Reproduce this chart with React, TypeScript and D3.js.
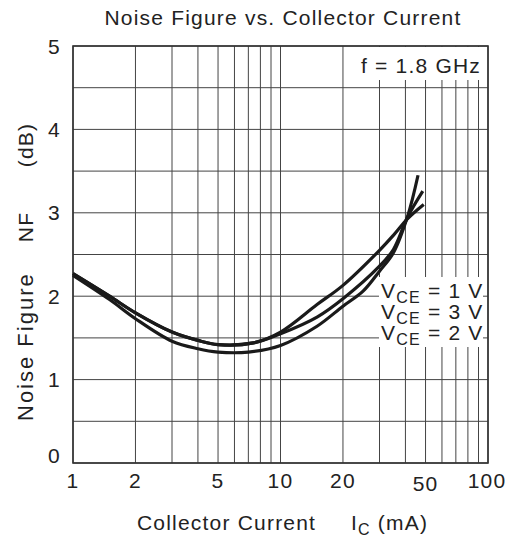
import React from "react";
import * as d3 from "d3";

const title = "Noise Figure vs. Collector Current";
const xTickValues = [1, 2, 5, 10, 20, 50, 100];
const yTickValues = [0, 1, 2, 3, 4, 5];
const yGridValues = [0, 0.5, 1, 1.5, 2, 2.5, 3, 3.5, 4, 4.5, 5];
const xGridValues = [1, 2, 3, 4, 5, 6, 7, 8, 9, 10, 20, 30, 40, 50, 60, 70, 80, 90, 100];

// Collector current (mA) and noise figure (dB) for each curve
const currentT = [1, 1.5, 2, 3, 4, 5, 7.4, 10, 15, 20, 30, 35, 41, 49];
const nfT = [2.27, 2.0, 1.8, 1.57, 1.47, 1.42, 1.44, 1.57, 1.9, 2.13, 2.55, 2.73, 2.93, 3.1];
const currentM = [1, 1.5, 2, 3, 4, 5, 7.4, 10, 15, 20, 30, 35, 41, 48.5];
const nfM = [2.27, 2.0, 1.8, 1.57, 1.47, 1.42, 1.44, 1.55, 1.75, 1.97, 2.36, 2.56, 2.95, 3.26];
const currentL = [1, 1.5, 2, 3, 4, 5, 7, 10, 15, 20, 25, 30, 35, 41, 46];
const nfL = [2.25, 1.96, 1.73, 1.46, 1.37, 1.33, 1.33, 1.41, 1.64, 1.88, 2.06, 2.3, 2.52, 2.96, 3.45];

const legendVce = ["1", "3", "2"];

const FONT = "'Liberation Sans', Arial, Helvetica, sans-serif";
const TXT = "#222";
const FS = 21;
const LS = 1.2;

export default function App() {
  const left = 73, right = 488, top = 46, bottom = 463;
  const x = d3.scaleLog().domain([1, 100]).range([left, right]);
  const y = d3.scaleLinear().domain([0, 5]).range([bottom, top]);

  const line = d3
    .line<[number, number]>()
    .x((d) => x(d[0]))
    .y((d) => y(d[1]))
    .curve(d3.curveCatmullRom.alpha(0.5));

  const series = [
    currentT.map((c, i) => [c, nfT[i]] as [number, number]),
    currentM.map((c, i) => [c, nfM[i]] as [number, number]),
    currentL.map((c, i) => [c, nfL[i]] as [number, number]),
  ];

  return (
    <svg
      width={508}
      height={540}
      style={{ position: "absolute", left: 0, top: 0, background: "#fff" }}
      fontFamily={FONT}
      letterSpacing={LS}
    >
      <rect x={0} y={0} width={508} height={540} fill="#fff" />
      <text x={283} y={25} textAnchor="middle" fontSize={FS} fill={TXT}>
        {title}
      </text>

      {/* grid */}
      {yGridValues.map((v) => (
        <line key={"h" + v} x1={left} x2={right} y1={y(v)} y2={y(v)} stroke="#444" strokeWidth={1} />
      ))}
      {xGridValues.map((v) => (
        <line key={"v" + v} x1={x(v)} x2={x(v)} y1={top} y2={bottom} stroke="#444" strokeWidth={1} />
      ))}

      {/* label boxes */}
      <rect x={355} y={47} width={128} height={33} fill="#fff" />
      <rect x={379} y={277} width={104} height={70} fill="#fff" />

      <rect x={left} y={top} width={right - left} height={bottom - top} fill="none" stroke="#333" strokeWidth={1.6} />

      {/* curves */}
      {series.map((s, i) => (
        <path key={i} d={line(s) || ""} fill="none" stroke="#1a1a1a" strokeWidth={3.2} strokeLinejoin="round" strokeLinecap="butt" />
      ))}

      <text x={481} y={73} textAnchor="end" fontSize={FS} fill={TXT}>
        f = 1.8 GHz
      </text>

      {legendVce.map((v, i) => (
        <text key={v} x={381} y={298 + i * 21} fontSize={FS} fill={TXT}>
          V<tspan fontSize={16} dy={5}>CE</tspan>
          <tspan dy={-5}>{` = ${v} V`}</tspan>
        </text>
      ))}

      {/* y ticks */}
      {yTickValues.map((v) => (
        <text key={"yt" + v} x={61} y={y(v) + 7.5 - (v === 0 ? 8 : 0)} textAnchor="end" fontSize={FS} fill={TXT}>
          {v}
        </text>
      ))}
      {/* x ticks */}
      {xTickValues.map((v) => (
        <text key={"xt" + v} x={x(v) + (v === 100 ? -1 : 0)} y={v === 50 ? 491 : 488} textAnchor="middle" fontSize={FS} fill={TXT}>
          {v}
        </text>
      ))}

      {/* axis titles */}
      <text x={137} y={530} fontSize={FS} fill={TXT}>
        Collector Current
      </text>
      <text x={351} y={530} fontSize={FS} fill={TXT}>
        I<tspan fontSize={16} dy={5}>C</tspan>
        <tspan dy={-5}> (mA)</tspan>
      </text>

      <g transform="translate(33,0) rotate(-90)">
        <text x={-421} y={0} fontSize={FS + 1} letterSpacing={2} fill={TXT}>Noise Figure</text>
        <text x={-227} y={0} textAnchor="middle" fontSize={FS} fill={TXT}>NF</text>
        <text x={-145} y={0} textAnchor="middle" fontSize={FS} fill={TXT}>(dB)</text>
      </g>
    </svg>
  );
}
